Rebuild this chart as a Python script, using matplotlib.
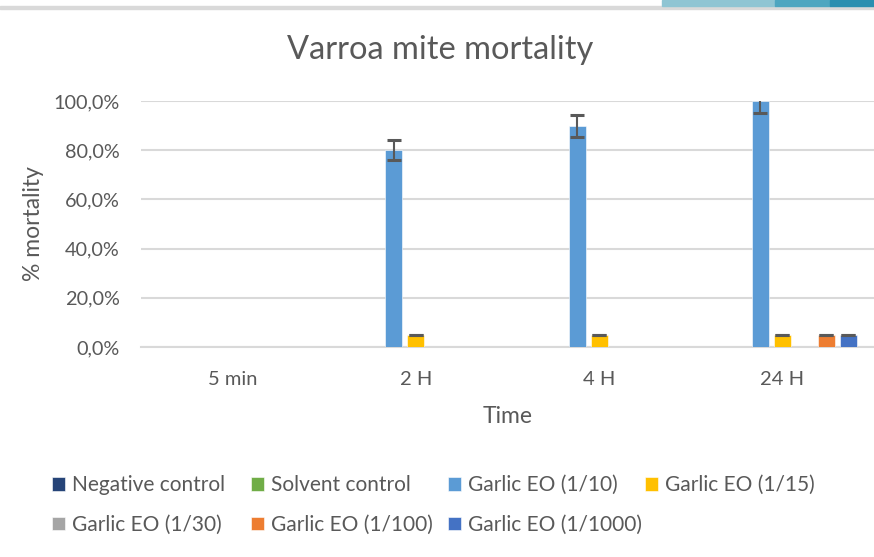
import matplotlib
matplotlib.use('Agg')
import matplotlib.pyplot as plt
import numpy as np
from matplotlib.patches import Rectangle

# Datos
tiempos = ['5 min', '2 H', '4 H', '24 H']
series = ['Negative control', 'Solvent control', 'Garlic EO (1/10)', 'Garlic EO (1/15)',
          'Garlic EO (1/30)', 'Garlic EO (1/100)', 'Garlic EO (1/1000)']
negativo = [0, 0, 0, 0]
solvente = [0, 0, 0, 0]
ajo_10 = [0, 80, 90, 100]
ajo_15 = [0, 5, 5, 5]
ajo_30 = [0, 0, 0, 0]
ajo_100 = [0, 0, 0, 5]
ajo_1000 = [0, 0, 0, 5]
err_10 = [0, 4, 4.5, 5]
err_15 = [0, 0, 0, 0]
err_100 = [0, 0, 0, 0]
err_1000 = [0, 0, 0, 0]
yticks = [0, 20, 40, 60, 80, 100]
ytick_labels = ['0,0%', '20,0%', '40,0%', '60,0%', '80,0%', '100,0%']

colores = ['#264478', '#70AD47', '#5B9BD5', '#FFC000', '#A5A5A5', '#ED7D31', '#4472C4']
valores = [negativo, solvente, ajo_10, ajo_15, ajo_30, ajo_100, ajo_1000]
errores = [None, None, err_10, err_15, None, err_100, err_1000]

plt.rcParams['font.family'] = ['Lato', 'DejaVu Sans']
gris = '#595959'

fig = plt.figure(figsize=(8.74, 5.57), dpi=100)
ax = fig.add_axes([141 / 874, 1 - 347 / 557, 733 / 874, 246 / 557])

x = np.arange(len(tiempos))
paso = 0.12
ancho = 0.094
handles = []
for i, (nombre, vals, col, err) in enumerate(zip(series, valores, colores, errores)):
    pos = x + (i - 3) * paso
    b = ax.bar(pos, vals, ancho, color=col, edgecolor='#ffffff', linewidth=0.4,
               label=nombre, zorder=3)
    handles.append(b)
    if err is not None:
        v = np.array(vals, dtype=float)
        e = np.array(err, dtype=float)
        m = v > 0
        ax.errorbar(pos[m], v[m], yerr=e[m], fmt='none', ecolor=gris,
                    elinewidth=1.5, capsize=4.7, capthick=2.2, zorder=4)

ax.set_xlim(-0.5, len(tiempos) - 0.5)
ax.set_ylim(0, 100)
ax.set_xticks(x)
ax.set_xticklabels(tiempos, fontsize=14.5, color=gris)
ax.set_yticks(yticks)
ax.set_yticklabels(ytick_labels, fontsize=14.3, color=gris)
ax.tick_params(axis='both', length=0)
ax.tick_params(axis='y', pad=15.5)
ax.tick_params(axis='x', pad=17)
ax.grid(axis='y', color='#d9d9d9', linewidth=1.5, zorder=0)
ax.set_axisbelow(True)
for s in ['top', 'right', 'left']:
    ax.spines[s].set_visible(False)
ax.spines['bottom'].set_color('#d9d9d9')
ax.spines['bottom'].set_linewidth(1.5)

ax.set_ylabel('% mortality', fontsize=16.5, color=gris, labelpad=7)
ax.set_xlabel('Time', fontsize=16.5, color=gris, labelpad=13)
fig.text(440 / 874, 1 - 50 / 557, 'Varroa mite mortality', fontsize=23.5, color=gris,
         ha='center', va='center')

# Leyenda: cuatro columnas de ancho igual, como en Excel
columnas = [[0, 4], [1, 5], [2, 6], [3]]
x_col = [46, 245, 442, 639]
for cols, xc in zip(columnas, x_col):
    leg = fig.legend([handles[k] for k in cols], [series[k] for k in cols], ncol=1,
                     loc='upper left', bbox_to_anchor=(xc / 874, 1 - 469 / 557),
                     frameon=False, fontsize=15, labelcolor=gris, handlelength=0.6,
                     handleheight=0.6, handletextpad=0.35, labelspacing=0.95,
                     borderaxespad=0, borderpad=0.3)

# Decoracion superior de la diapositiva
fig.patches.append(Rectangle((0, 1 - 9 / 557), 1, 3 / 557, transform=fig.transFigure,
                             color='#d9d9d9', zorder=0))
fig.patches.append(Rectangle((662 / 874, 1 - 6 / 557), 113 / 874, 6 / 557,
                             transform=fig.transFigure, color='#8fc5d3', zorder=1))
fig.patches.append(Rectangle((775 / 874, 1 - 6 / 557), 55 / 874, 6 / 557,
                             transform=fig.transFigure, color='#4ea6c0', zorder=1))
fig.patches.append(Rectangle((830 / 874, 1 - 6 / 557), 44 / 874, 6 / 557,
                             transform=fig.transFigure, color='#2a8fb0', zorder=1))

fig.savefig('out.png', dpi=100)
